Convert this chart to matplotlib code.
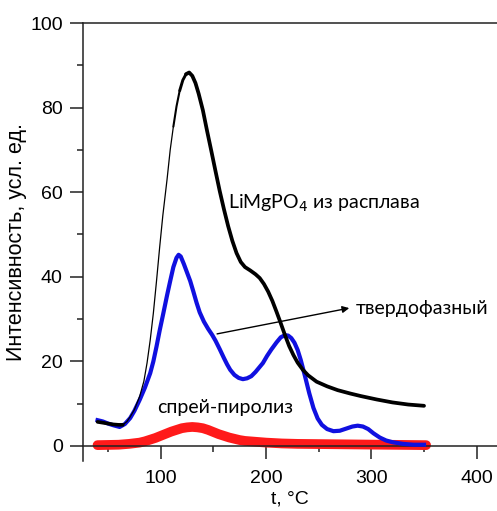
import matplotlib
matplotlib.use("Agg")
import matplotlib.pyplot as plt
from matplotlib.ticker import MultipleLocator

# Black: LiMgPO4 from melt
black_t = [40, 45, 50, 55, 60, 64, 68, 71, 75, 80, 84, 87, 90, 93, 96, 99, 102, 106, 109, 112, 115, 118,
           121, 124, 127, 130, 133, 136, 140, 144, 148, 152, 156, 160, 164, 168, 172, 176, 180, 185, 190,
           194, 198, 202, 206, 210, 214, 218, 222, 226, 230, 235, 240, 248, 258, 268, 280, 290, 305, 320,
           335, 350]
black_i = [5.7, 5.5, 5.3, 5.1, 5.0, 5.0, 5.8, 6.9, 8.6, 11.7, 15.3, 19.6, 25.0, 31.4, 39.0, 47.0, 54.5,
           63.0, 70.0, 75.5, 80.3, 84.0, 86.5, 87.9, 88.3, 87.5, 85.8, 83.3, 79.4, 74.5, 69.8, 65.0, 60.3,
           56.0, 52.0, 48.5, 45.6, 43.5, 42.3, 41.5, 40.6, 39.7, 38.3, 36.5, 34.3, 31.7, 29.0, 26.2, 23.6,
           21.5, 19.7, 18.0, 16.7, 15.2, 14.1, 13.2, 12.4, 11.8, 11.0, 10.3, 9.8, 9.5]

# Blue: solid-state synthesis
blue_t = [40, 45, 50, 55, 61, 66, 71, 75, 80, 85, 90, 93, 96, 99, 102.5, 106, 109, 112, 115, 117, 119,
          122, 125, 128, 131, 134, 137, 141, 145, 149, 152, 156, 160, 163, 166, 170, 174, 178, 182, 186,
          190, 194, 197, 201, 205, 210, 214, 218, 221, 224, 227, 230, 233, 237, 241, 245, 249, 253, 258,
          264, 270, 276, 282, 287, 292, 297, 302, 308, 314, 320, 330, 340, 350]
blue_i = [6.1, 5.8, 5.3, 4.9, 4.5, 5.2, 6.6, 8.3, 10.9, 13.8, 17.2, 20.0, 23.5, 27.3, 31.4, 35.6, 39.0,
          42.3, 44.5, 45.2, 44.8, 43.0, 41.0, 39.0, 36.5, 33.9, 31.6, 29.4, 27.7, 26.2, 24.9, 22.9, 20.8,
          19.3, 18.0, 16.8, 16.1, 15.8, 16.0, 16.5, 17.5, 18.7, 19.6, 21.3, 22.8, 24.5, 25.7, 26.2, 26.1,
          25.5, 24.4, 22.7, 20.3, 16.5, 12.5, 9.0, 6.5, 5.0, 4.0, 3.5, 3.6, 4.1, 4.6, 4.8, 4.6, 4.0, 3.0,
          2.0, 1.3, 0.9, 0.5, 0.3, 0.3]

# Red: spray pyrolysis
red_t = [40, 50, 60, 70, 80, 85, 90, 95, 100, 105, 110, 115, 120, 125, 130, 135, 140, 145, 150, 155,
         160, 165, 170, 175, 180, 190, 200, 215, 230, 250, 270, 310, 352]
red_i = [0.2, 0.25, 0.3, 0.5, 0.8, 1.1, 1.5, 1.9, 2.4, 2.9, 3.4, 3.8, 4.2, 4.4, 4.5, 4.4, 4.2, 3.8, 3.3,
         2.8, 2.4, 2.0, 1.7, 1.4, 1.2, 1.0, 0.8, 0.6, 0.5, 0.45, 0.4, 0.3, 0.2]

x_ticks = [100, 200, 300, 400]
y_ticks = [0, 20, 40, 60, 80, 100]

fig = plt.figure(figsize=(4.97, 5.11), dpi=100)
ax = fig.add_axes([83/497, 50/511, 1 - 83/497, (461 - 23)/511])

ax.plot(red_t, red_i, color="#ff1a1a", lw=7, solid_capstyle="round", zorder=2)
ax.plot(blue_t, blue_i, color="#1010e0", lw=3.0, zorder=3)

# black: thin on the steep rise, gradually thicker towards the peak
i1 = black_t.index(64)
i2 = black_t.index(112)
i3 = black_t.index(118)
i4 = black_t.index(124)
segs = [(0, i1, 2.6), (i1, i2, 0.9), (i2, i3, 1.5), (i3, i4, 2.1), (i4, len(black_t) - 1, 2.7)]
for a, b, w in segs:
    ax.plot(black_t[a:b + 1], black_i[a:b + 1], color="black", lw=w, zorder=4,
            solid_capstyle="round", solid_joinstyle="round")

ax.set_xlim(26.2, 419.3)
ax.set_ylim(-3.55, 100)

ax.spines["right"].set_visible(False)
ax.spines["bottom"].set_position(("data", 0))
for s in ["left", "bottom", "top"]:
    ax.spines[s].set_linewidth(1.1)
    ax.spines[s].set_color("#222222")

ax.set_xticks(x_ticks)
ax.set_yticks(y_ticks)
ax.xaxis.set_minor_locator(MultipleLocator(50))
ax.yaxis.set_minor_locator(MultipleLocator(10))
ax.tick_params(which="major", direction="out", length=9.5, width=1.1, labelsize=14, pad=5,
               color="#222222")
ax.tick_params(which="minor", direction="out", length=4.5, width=1.1, color="#222222")
ax.tick_params(axis="x", which="major", pad=8)
ax.tick_params(top=False, right=False, which="both")
for lab in ax.get_xticklabels() + ax.get_yticklabels():
    lab.set_fontfamily("Liberation Sans")

ax.set_xlabel("t, °C", fontsize=14, family="Liberation Sans", labelpad=2)
ax.set_ylabel("Интенсивность, усл. ед.", fontsize=15.5, family="Liberation Sans", labelpad=2)

ax.annotate("", xy=(279, 32.6), xytext=(153.5, 26.5),
            arrowprops=dict(arrowstyle="-|>", color="black", lw=1.0, mutation_scale=10,
                            shrinkA=0, shrinkB=0), zorder=5)
ax.text(285, 32.6, "твердофазный", fontsize=14, family="Lato", va="center", ha="left")
ax.text(164, 57.4, "LiMgPO$_4$ из расплава", fontsize=14, family="Lato", va="center", ha="left")
ax.text(97, 9.2, "спрей-пиролиз", fontsize=14, family="Lato", va="center", ha="left")

fig.savefig("out.png", dpi=100)
